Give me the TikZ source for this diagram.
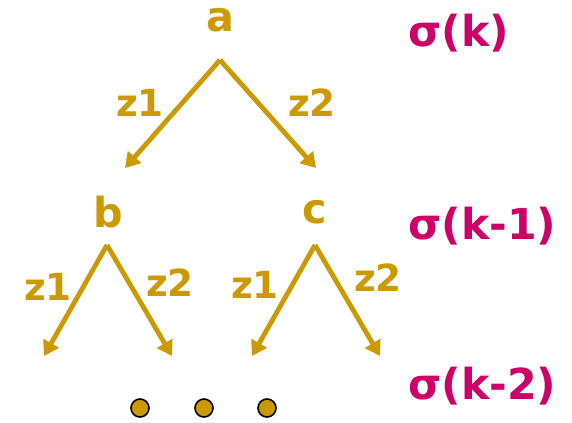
\documentclass[tikz,border=0pt]{standalone}
\usepackage{fontspec}
\setmainfont{DejaVu Sans}[UprightFont=* Bold]
\usetikzlibrary{arrows.meta}
\definecolor{gold}{RGB}{204,153,0}
\definecolor{berry}{RGB}{204,0,102}
\tikzset{
  vert/.style={text=gold, font=\fontsize{31}{33}\selectfont, inner sep=0pt},
  edgelab/.style={text=gold, font=\fontsize{28}{30}\selectfont, inner sep=0pt},
  level/.style={text=berry, font=\fontsize{32}{34}\selectfont, inner sep=0pt},
  branch/.style={draw=gold, line width=3.6pt, -{Triangle[width=13pt,length=11pt]}},
  more/.style={circle, fill=gold, draw=black, line width=1.2pt, minimum size=13.5pt, inner sep=0pt}
}
\begin{document}
\begin{tikzpicture}[x=0.75pt, y=-0.75pt]
    \useasboundingbox (0,0) rectangle (572,422);
    % tree vertices
    \node[vert] (a) at (220,20) {a};
    \node[vert] (b) at (108,212) {b};
    \node[vert] (c) at (315,212) {c};
    % branch points and ends
    \coordinate (a-top) at (220,60);
    \coordinate (b-top) at (107,245);
    \coordinate (c-top) at (315,245);
    \coordinate (a-l) at (125,168);
    \coordinate (a-r) at (316,168);
    \coordinate (b-l) at (44,356);
    \coordinate (b-r) at (172,356);
    \coordinate (c-l) at (252,356);
    \coordinate (c-r) at (380,356);
    \draw[branch] (a-top) -- (a-l);
    \draw[branch] (a-top) -- (a-r);
    \draw[branch] (b-top) -- (b-l);
    \draw[branch] (b-top) -- (b-r);
    \draw[branch] (c-top) -- (c-l);
    \draw[branch] (c-top) -- (c-r);
    % branch labels
    \node[edgelab] (az1) at (140,103) {z1};
    \node[edgelab] (az2) at (312,103) {z2};
    \node[edgelab] (bz1) at (48,287) {z1};
    \node[edgelab] (bz2) at (170,283) {z2};
    \node[edgelab] (cz1) at (255,285) {z1};
    \node[edgelab] (cz2) at (378,278) {z2};
    % dots
    \node[more] (d1) at (140,408) {};
    \node[more] (d2) at (204,408) {};
    \node[more] (d3) at (267,408) {};
    % levels
    \node[level, anchor=west] (s0) at (408,33) {σ(k)};
    \node[level, anchor=west] (s1) at (408,226) {σ(k-1)};
    \node[level, anchor=west] (s2) at (408,386) {σ(k-2)};
\end{tikzpicture}
\end{document}
